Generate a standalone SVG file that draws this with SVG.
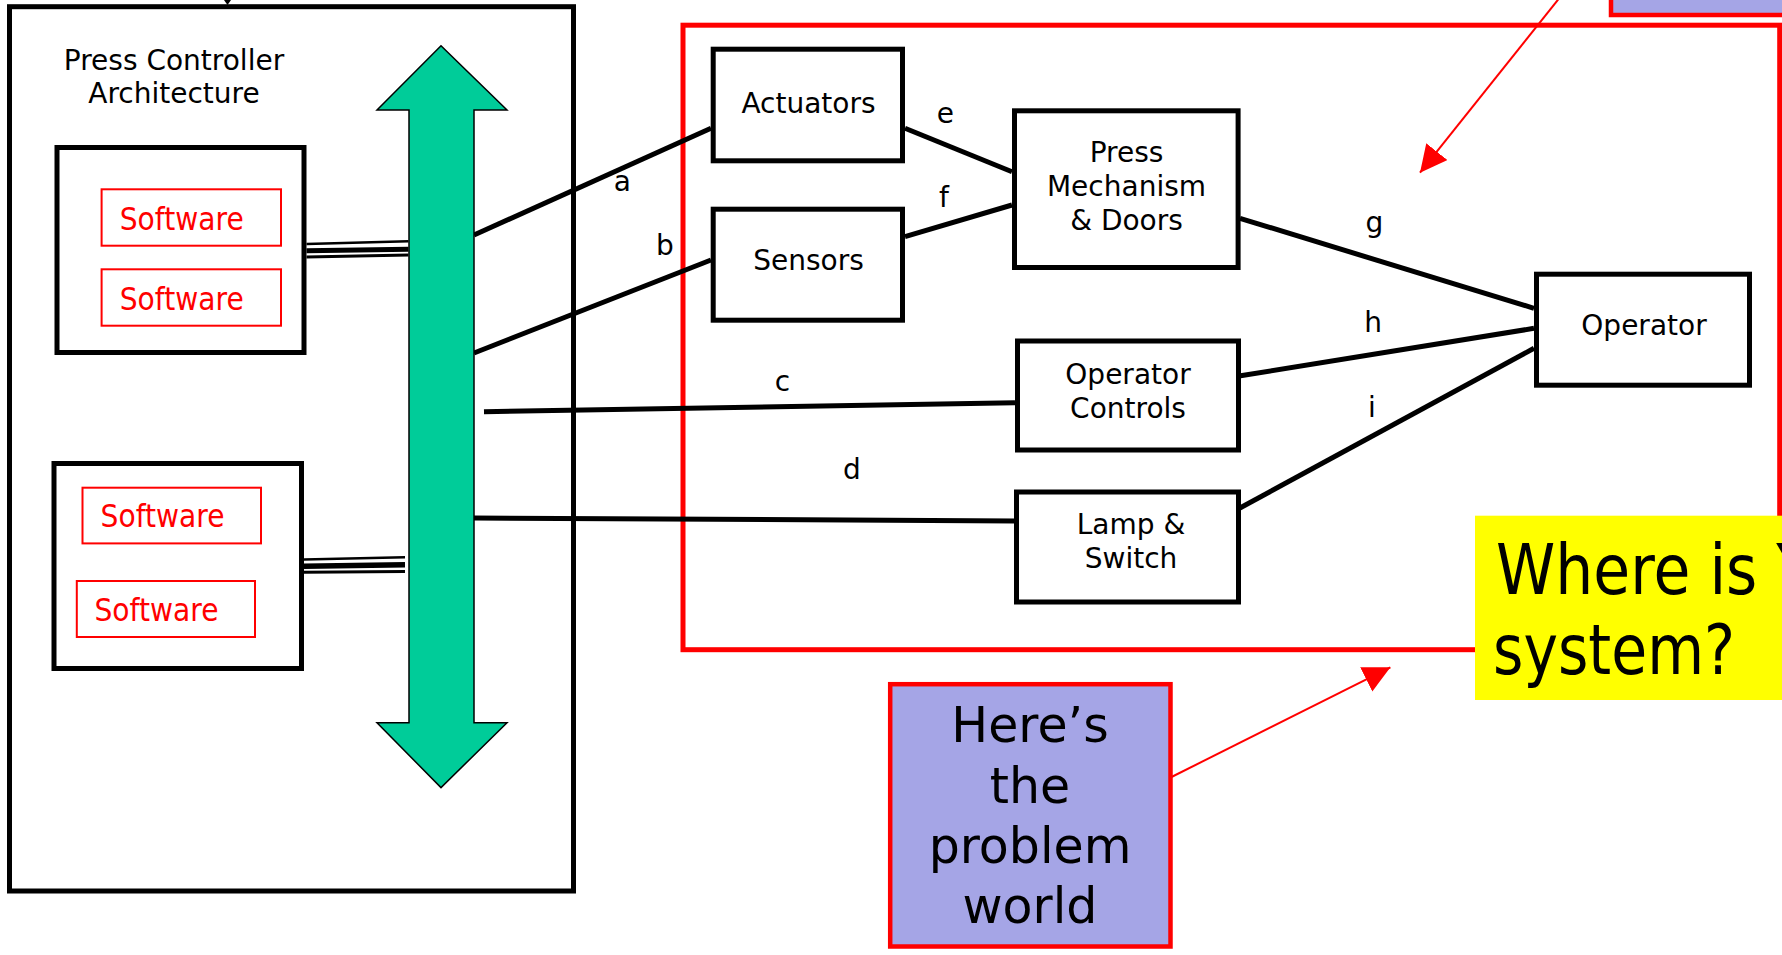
<svg xmlns="http://www.w3.org/2000/svg" width="1782" height="955" viewBox="0 0 1782 955">
  <style>
    .box { fill: #ffffff; stroke: #000000; stroke-width: 5; }
    .sw { fill: #ffffff; stroke: #ff0000; stroke-width: 2; }
    .swt { font-family: "DejaVu Sans", Verdana, sans-serif; font-size: 32px; fill: #ff0000; }
    .lbl { font-family: "DejaVu Sans", Verdana, sans-serif; font-size: 28px; fill: #000000; text-anchor: middle; }
    .wire { stroke: #000000; stroke-width: 5; fill: none; }
    .note { fill: #a5a5e6; stroke: #ff0000; stroke-width: 4.5; }
    .big { font-family: "DejaVu Sans", Verdana, sans-serif; fill: #000000; }
    .pointer { stroke: #ff0000; stroke-width: 2; fill: none; marker-end: url(#redHead); }
  </style>
  <defs>
    <marker id="redHead" markerUnits="userSpaceOnUse" markerWidth="28" markerHeight="28" refX="27" refY="13.5" orient="auto">
      <path d="M0,0 L27,13.5 L0,27 Z" fill="#ff0000"/>
    </marker>
  </defs>

  <rect width="1782" height="955" fill="#ffffff"/>

  <!-- controller architecture frame -->
  <g id="controller">
    <rect class="box" x="9.5" y="6.7" width="564" height="884.3" fill="none"/>
    <polygon points="224,0 231,0 227.5,5" fill="#000000"/>
    <text class="lbl" x="174" y="70">Press Controller</text>
    <text class="lbl" x="174" y="102.7">Architecture</text>
  </g>

  <!-- problem world frame -->
  <g id="problem-world">
    <rect x="683" y="25.2" width="1096.7" height="624.5" fill="none" stroke="#ff0000" stroke-width="5"/>
  </g>

  <!-- connectors -->
  <g id="connectors">
    <line class="wire" x1="474" y1="235" x2="711" y2="128.3"/>
    <line class="wire" x1="474" y1="353" x2="711" y2="260"/>
    <line class="wire" x1="484" y1="411.7" x2="1015" y2="402.8"/>
    <line class="wire" x1="474" y1="518" x2="1015" y2="521"/>
    <line class="wire" x1="905" y1="128.3" x2="1012" y2="171.7"/>
    <line class="wire" x1="905" y1="236.7" x2="1012" y2="205"/>
    <line class="wire" x1="1240" y1="218.3" x2="1534" y2="308.3"/>
    <line class="wire" x1="1239" y1="376" x2="1534" y2="328.3"/>
    <line class="wire" x1="1240" y1="508" x2="1534" y2="348.3"/>
    <!-- bus links from the processor boxes -->
    <g stroke="#000000">
      <line x1="306.5" y1="244" x2="408.5" y2="241.3" stroke-width="2.5"/>
      <line x1="306.5" y1="250.8" x2="408.5" y2="249.2" stroke-width="5"/>
      <line x1="306.5" y1="257" x2="408.5" y2="255" stroke-width="3"/>
      <line x1="304" y1="559.6" x2="405" y2="557.3" stroke-width="2.5"/>
      <line x1="304" y1="566.2" x2="405" y2="564.7" stroke-width="5.5"/>
      <line x1="304" y1="572.3" x2="405" y2="571.6" stroke-width="3"/>
    </g>
    <text class="lbl" x="622.3" y="190.7">a</text>
    <text class="lbl" x="665" y="255">b</text>
    <text class="lbl" x="782.5" y="390.7">c</text>
    <text class="lbl" x="852" y="478.6">d</text>
    <text class="lbl" x="945.3" y="123.3">e</text>
    <text class="lbl" x="944" y="207.3">f</text>
    <text class="lbl" x="1374.5" y="231.7">g</text>
    <text class="lbl" x="1373" y="332.3">h</text>
    <text class="lbl" x="1372" y="416.7">i</text>
  </g>

  <!-- bus -->
  <g id="bus">
    <polygon points="441,45.7 507,110 474,110 474,722.8 507,722.8 441,787.6 377,722.8 409,722.8 409,110 377,110" fill="#00cc99" stroke="#000000" stroke-width="1.5"/>
  </g>

  <g id="processor-1">
    <rect class="box" x="57" y="147.5" width="247" height="205"/>
    <rect class="sw" x="101.6" y="189.3" width="179.4" height="56.4"/>
    <text class="swt" x="119.7" y="230" textLength="124" lengthAdjust="spacingAndGlyphs">Software</text>
    <rect class="sw" x="101.6" y="269.3" width="179.4" height="56.4"/>
    <text class="swt" x="119.7" y="310" textLength="124" lengthAdjust="spacingAndGlyphs">Software</text>
  </g>

  <g id="processor-2">
    <rect class="box" x="54" y="463.5" width="247.5" height="205"/>
    <rect class="sw" x="82.5" y="487.7" width="178.5" height="55.7"/>
    <text class="swt" x="100.6" y="527.4" textLength="124" lengthAdjust="spacingAndGlyphs">Software</text>
    <rect class="sw" x="76.8" y="581" width="178.2" height="56"/>
    <text class="swt" x="94.5" y="621" textLength="124" lengthAdjust="spacingAndGlyphs">Software</text>
  </g>

  <g id="actuators">
    <rect class="box" x="713.2" y="49.2" width="189.3" height="111.6"/>
    <text class="lbl" x="808.5" y="113.3">Actuators</text>
  </g>

  <g id="sensors">
    <rect class="box" x="713.2" y="209.2" width="189.3" height="111"/>
    <text class="lbl" x="808.5" y="270">Sensors</text>
  </g>

  <g id="press-mechanism">
    <rect class="box" x="1014.5" y="110.8" width="223.6" height="156.7"/>
    <text class="lbl" x="1126.5" y="161.7">Press</text>
    <text class="lbl" x="1126.5" y="196">Mechanism</text>
    <text class="lbl" x="1126.5" y="230">&amp; Doors</text>
  </g>

  <g id="operator-controls">
    <rect class="box" x="1017.5" y="341" width="221" height="109"/>
    <text class="lbl" x="1128" y="383.7">Operator</text>
    <text class="lbl" x="1128" y="417.7">Controls</text>
  </g>

  <g id="lamp-switch">
    <rect class="box" x="1016.5" y="492" width="222" height="110"/>
    <text class="lbl" x="1131" y="533.8">Lamp &amp;</text>
    <text class="lbl" x="1131" y="568">Switch</text>
  </g>

  <g id="operator">
    <rect class="box" x="1536.5" y="274.2" width="213" height="111"/>
    <text class="lbl" x="1644" y="335">Operator</text>
  </g>

  <!-- callouts -->
  <g id="callout-top">
    <rect class="note" x="1611" y="-10" width="200" height="25"/>
    <line class="pointer" x1="1570" y1="-15.3" x2="1420" y2="172.7"/>
  </g>

  <g id="callout-problem-world">
    <rect class="note" x="890.2" y="684.2" width="280.3" height="262.3"/>
    <text class="big" x="1030" y="741.6" font-size="49" text-anchor="middle">Here’s</text>
    <text class="big" x="1030" y="802.9" font-size="49" text-anchor="middle">the</text>
    <text class="big" x="1030" y="863" font-size="49" text-anchor="middle">problem</text>
    <text class="big" x="1030" y="923" font-size="49" text-anchor="middle">world</text>
    <line class="pointer" x1="1170.5" y1="777.5" x2="1390.4" y2="667.3"/>
  </g>

  <g id="callout-system">
    <rect x="1475" y="515.7" width="320" height="184.3" fill="#ffff00"/>
    <text class="big" x="1496" y="594" font-size="70" textLength="317" lengthAdjust="spacingAndGlyphs">Where is Y</text>
    <text class="big" x="1493" y="674" font-size="70" textLength="242" lengthAdjust="spacingAndGlyphs">system?</text>
  </g>
</svg>
